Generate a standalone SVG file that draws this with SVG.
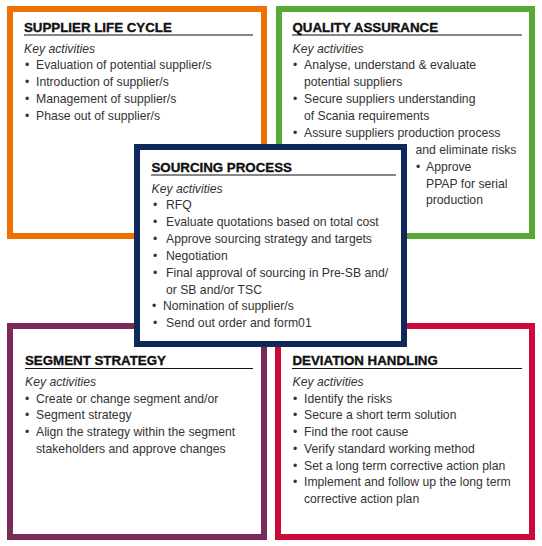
<svg xmlns="http://www.w3.org/2000/svg" width="542" height="546" viewBox="0 0 542 546">
<style>
.box{fill:#fff;stroke-width:6}
.t{font-family:"Liberation Sans",Arial,sans-serif;font-weight:bold;font-size:13.3px;fill:#111;stroke:#111;stroke-width:0.35}
.k{font-family:"Liberation Sans",Arial,sans-serif;font-style:italic;font-size:12.2px;fill:#333}
.b{font-family:"Liberation Sans",Arial,sans-serif;font-size:12.2px;fill:#333}
.u{stroke:#111;stroke-width:1.2}
</style>
<rect width="542" height="546" fill="#fff"/>
<g id="supplier-life-cycle">
<rect class="box" x="10" y="9" width="254" height="227" stroke="#ED7203"/>
<text class="t" x="24" y="31.5">SUPPLIER LIFE CYCLE</text>
<line class="u" x1="24" y1="35" x2="253" y2="35"/>
<text class="k" x="24" y="53">Key activities</text>
<text class="b" x="25" y="69">•</text><text class="b" x="36" y="69">Evaluation of potential supplier/s</text>
<text class="b" x="25" y="86">•</text><text class="b" x="36" y="86">Introduction of supplier/s</text>
<text class="b" x="25" y="103">•</text><text class="b" x="36" y="103">Management of supplier/s</text>
<text class="b" x="25" y="120">•</text><text class="b" x="36" y="120">Phase out of supplier/s</text>
</g>
<g id="quality-assurance">
<rect class="box" x="279" y="9" width="253" height="227" stroke="#58A834"/>
<text class="t" x="292.5" y="31.5">QUALITY ASSURANCE</text>
<line class="u" x1="292" y1="35" x2="522" y2="35"/>
<text class="k" x="292.5" y="53">Key activities</text>
<text class="b" x="293" y="69">•</text><text class="b" x="304" y="69">Analyse, understand &amp; evaluate</text>
<text class="b" x="304" y="86">potential suppliers</text>
<text class="b" x="293" y="103">•</text><text class="b" x="304" y="103">Secure suppliers understanding</text>
<text class="b" x="304" y="120">of Scania requirements</text>
<text class="b" x="293" y="137">•</text><text class="b" x="304" y="137">Assure suppliers production process</text>
<text class="b" x="415.5" y="153.5">and eliminate risks</text>
<text class="b" x="416" y="170.5">•</text><text class="b" x="426" y="170.5">Approve</text>
<text class="b" x="426" y="187.5">PPAP for serial</text>
<text class="b" x="426" y="204">production</text>
</g>
<g id="segment-strategy">
<rect class="box" x="10" y="326" width="254" height="211" stroke="#7A2A59"/>
<text class="t" x="25" y="365">SEGMENT STRATEGY</text>
<line class="u" x1="25" y1="368.5" x2="253" y2="368.5"/>
<text class="k" x="25" y="386">Key activities</text>
<text class="b" x="25" y="402.5">•</text><text class="b" x="36" y="402.5">Create or change segment and/or</text>
<text class="b" x="25" y="419">•</text><text class="b" x="36" y="419">Segment strategy</text>
<text class="b" x="25" y="436">•</text><text class="b" x="36" y="436">Align the strategy within the segment</text>
<text class="b" x="36" y="452.5">stakeholders and approve changes</text>
</g>
<g id="deviation-handling">
<rect class="box" x="278" y="326" width="254" height="211" stroke="#CC0A3A"/>
<text class="t" x="292.5" y="365">DEVIATION HANDLING</text>
<line class="u" x1="292" y1="368.5" x2="522" y2="368.5"/>
<text class="k" x="292.5" y="386">Key activities</text>
<text class="b" x="293" y="402.5">•</text><text class="b" x="304" y="402.5">Identify the risks</text>
<text class="b" x="293" y="419">•</text><text class="b" x="304" y="419">Secure a short term solution</text>
<text class="b" x="293" y="436">•</text><text class="b" x="304" y="436">Find the root cause</text>
<text class="b" x="293" y="452.5">•</text><text class="b" x="304" y="452.5">Verify standard working method</text>
<text class="b" x="293" y="469.5">•</text><text class="b" x="304" y="469.5">Set a long term corrective action plan</text>
<text class="b" x="293" y="486">•</text><text class="b" x="304" y="486">Implement and follow up the long term</text>
<text class="b" x="304" y="502.5">corrective action plan</text>
</g>
<g id="sourcing-process">
<rect class="box" x="137" y="147" width="267" height="197" stroke="#0F2A5A"/>
<text class="t" x="151.5" y="171.5">SOURCING PROCESS</text>
<line class="u" x1="151" y1="175" x2="396" y2="175"/>
<text class="k" x="151.5" y="192.5">Key activities</text>
<text class="b" x="153" y="209">•</text><text class="b" x="166" y="209">RFQ</text>
<text class="b" x="153" y="226">•</text><text class="b" x="166" y="226">Evaluate quotations based on total cost</text>
<text class="b" x="153" y="243">•</text><text class="b" x="166" y="243">Approve sourcing strategy and targets</text>
<text class="b" x="153" y="259.5">•</text><text class="b" x="166" y="259.5">Negotiation</text>
<text class="b" x="153" y="276.5">•</text><text class="b" x="166" y="276.5">Final approval of sourcing in Pre-SB and/</text>
<text class="b" x="166" y="293.5">or SB and/or TSC</text>
<text class="b" x="152" y="310">•</text><text class="b" x="163" y="310">Nomination of supplier/s</text>
<text class="b" x="153" y="327">•</text><text class="b" x="166" y="327">Send out order and form01</text>
</g>
</svg>
